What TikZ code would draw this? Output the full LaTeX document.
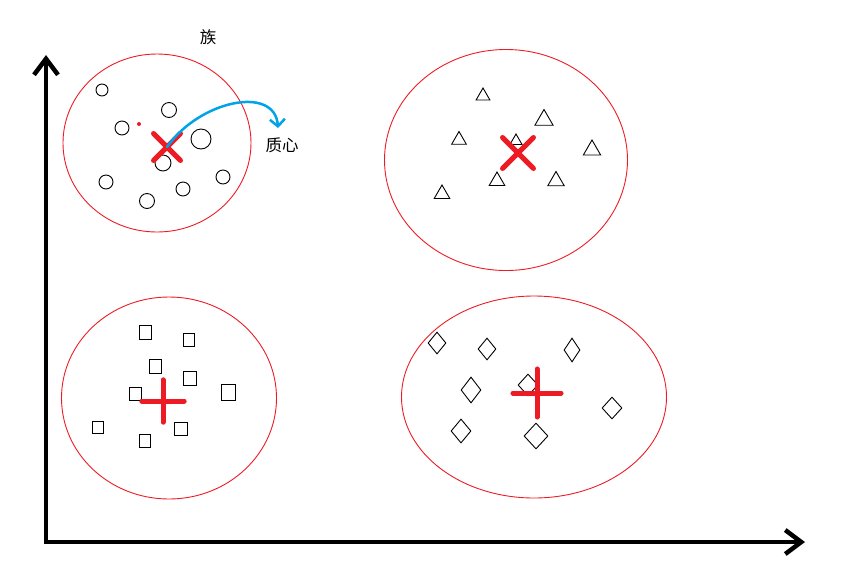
\documentclass[tikz,border=0pt]{standalone}
\usepackage{fontspec}
\setmainfont{Noto Sans CJK SC}
\usetikzlibrary{shapes.geometric,shapes.misc,arrows.meta}
\definecolor{paintred}{RGB}{237,28,36}
\definecolor{paintblue}{RGB}{0,162,232}
\begin{document}
\begin{tikzpicture}[x=1pt,y=-1pt,
    cluster/.style={ellipse,draw=paintred,line width=0.9pt,inner sep=0pt},
    dot node/.style={circle,draw,line width=0.9pt,inner sep=0pt},
    tri node/.style={regular polygon,regular polygon sides=3,draw,line width=0.9pt,inner sep=0pt},
    box node/.style={rectangle,draw,line width=1pt,inner sep=0pt},
    kite node/.style={diamond,draw,line width=0.9pt,inner sep=0pt},
    centre node/.style={cross out,draw=paintred,line width=5pt,line cap=round,inner sep=0pt,minimum size=#1},
    label node/.style={font=\fontsize{16.5}{18}\selectfont}]
  \useasboundingbox (0,0) rectangle (846,574);
  % axes
  \coordinate (ytop) at (46,55);
  \coordinate (o) at (46,542);
  \coordinate (xend) at (805,542);
  \draw[line width=4.5pt,{Straight Barb[length=16pt,width=24pt]}-{Straight Barb[length=16pt,width=24pt]}]
    (ytop) -- (o) -- (xend);

  % clusters
  \node[cluster,minimum width=188pt,minimum height=178pt] (k1) at (157,143) {};
  \node[cluster,minimum width=243pt,minimum height=221pt] (k2) at (506,160) {};
  \node[cluster,minimum width=215pt,minimum height=202pt] (k3) at (169,398) {};
  \node[cluster,minimum width=265pt,minimum height=202pt] (k4) at (534,397) {};

  % circles
  \node[dot node,minimum size=12pt] (a1) at (102,90) {};
  \node[dot node,minimum size=15pt] (a2) at (169,110) {};
  \node[dot node,minimum size=14pt] (a3) at (122,128) {};
  \node[dot node,minimum size=20pt] (a4) at (201,139) {};
  \node[dot node,minimum size=16pt] (a5) at (163,163) {};
  \node[dot node,minimum size=14pt] (a6) at (106,182) {};
  \node[dot node,minimum size=14pt] (a7) at (183,189) {};
  \node[dot node,minimum size=14pt] (a8) at (223,177) {};
  \node[dot node,minimum size=15pt] (a9) at (147,201) {};
  \node[circle,fill=paintred,minimum size=4pt,inner sep=0pt] (a10) at (139,124) {};

  % triangles
  \node[tri node,minimum size=16pt] (b1) at (483,96) {};
  \node[tri node,minimum size=21pt] (b2) at (544,120) {};
  \node[tri node,minimum size=17pt] (b3) at (459,140) {};
  \node[tri node,minimum size=14pt] (b4) at (516,141) {};
  \node[tri node,minimum size=20pt] (b5) at (592,150) {};
  \node[tri node,minimum size=18pt] (b6) at (497,181) {};
  \node[tri node,minimum size=19pt] (b7) at (556,181) {};
  \node[tri node,minimum size=18pt] (b8) at (442,194) {};

  % squares
  \node[box node,minimum width=12pt,minimum height=14pt] (c1) at (145,332) {};
  \node[box node,minimum width=11pt,minimum height=13pt] (c2) at (189,340) {};
  \node[box node,minimum width=12pt,minimum height=14pt] (c3) at (155,366) {};
  \node[box node,minimum width=13pt,minimum height=14pt] (c4) at (190,378) {};
  \node[box node,minimum width=12pt,minimum height=13pt] (c5) at (135,394) {};
  \node[box node,minimum width=14pt,minimum height=16pt] (c6) at (228,392) {};
  \node[box node,minimum width=11pt,minimum height=12pt] (c7) at (98,427) {};
  \node[box node,minimum width=13pt,minimum height=13pt] (c8) at (181,429) {};
  \node[box node,minimum width=11pt,minimum height=13pt] (c9) at (145,441) {};

  % diamonds
  \node[kite node,minimum width=18pt,minimum height=22pt] (d1) at (437,343) {};
  \node[kite node,minimum width=18pt,minimum height=22pt] (d2) at (487,349) {};
  \node[kite node,minimum width=16pt,minimum height=24pt] (d3) at (572,350) {};
  \node[kite node,minimum width=20pt,minimum height=26pt] (d4) at (471,390) {};
  \node[kite node,minimum width=20pt,minimum height=22pt] (d5) at (528,385) {};
  \node[kite node,minimum width=20pt,minimum height=22pt] (d6) at (612,408) {};
  \node[kite node,minimum width=20pt,minimum height=24pt] (d7) at (461,431) {};
  \node[kite node,minimum width=24pt,minimum height=26pt] (d8) at (536,436) {};

  % centroids
  \node[centre node=22pt] (x1) at (167,147) {};
  \node[centre node=26pt] (x2) at (518,153) {};
  \node[centre node=25pt,rotate=45] (x3) at (163,401) {};
  \node[centre node=29pt,rotate=45] (x4) at (537,393) {};

  % labels
  \node[label node] (t1) at (208,37) {族};
  \node[label node] (t2) at (282,145) {质心};
  \coordinate (tip) at (278,128);
  \draw[paintblue,line width=2.5pt,line cap=round,-{Straight Barb[length=7pt,width=15pt]}]
    (x1.center) .. controls (200,100) and (275,85) .. (tip);
\end{tikzpicture}
\end{document}
